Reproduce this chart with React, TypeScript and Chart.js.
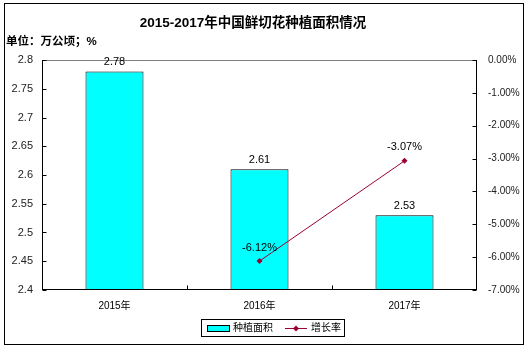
import React, { useEffect, useRef } from "react";
import { Chart, registerables } from "chart.js";

Chart.register(...registerables);

const categories = ["2015年", "2016年", "2017年"];
const areaValues = [2.78, 2.61, 2.53];
const growthValues: (number | null)[] = [null, -6.12, -3.07];
const leftTicks = { min: 2.4, max: 2.8, step: 0.05 };
const rightTicks = { min: -7, max: 0, step: 1 };
const titleText = "2015-2017年中国鲜切花种植面积情况";
const unitText = "单位：万公顷；%";
const seriesNames = ["种植面积", "增长率"];

const BAR_COLOR = "#00FFFF";
const LINE_COLOR = "#990033";
const LATIN = "'Liberation Sans', Arial, 'Noto Sans CJK SC', sans-serif";
const CJK = "'Liberation Sans', 'Noto Sans CJK SC', sans-serif";

const decorPlugin = {
  id: "decor",
  afterDraw(chart: any) {
    const ctx = chart.ctx;
    const a = chart.chartArea;
    ctx.save();
    // outer border
    ctx.strokeStyle = "#000";
    ctx.lineWidth = 1;
    ctx.strokeRect(4.5, 3.5, 519, 341);
    // title
    ctx.fillStyle = "#000";
    ctx.font = "bold 13.5px " + CJK;
    ctx.textAlign = "center";
    ctx.textBaseline = "middle";
    ctx.fillText(titleText, 253, 23);
    ctx.font = "bold 11.5px " + CJK;
    ctx.textAlign = "left";
    ctx.fillText(unitText, 6, 42);
    // plot frame
    ctx.strokeStyle = "#808080";
    ctx.beginPath();
    ctx.moveTo(a.left, Math.round(a.top) + 0.5);
    ctx.lineTo(a.right, Math.round(a.top) + 0.5);
    ctx.stroke();
    ctx.strokeStyle = "#000";
    ctx.beginPath();
    const L = Math.round(a.left) + 0.5;
    const R = Math.round(a.right) - 0.5;
    const B = Math.round(a.bottom) - 0.5;
    ctx.moveTo(L, a.top);
    ctx.lineTo(L, a.bottom);
    ctx.moveTo(R, a.top);
    ctx.lineTo(R, a.bottom);
    ctx.moveTo(a.left, B);
    ctx.lineTo(a.right, B);
    const y = chart.scales.y;
    y.ticks.forEach((t: any) => {
      const p = Math.round(y.getPixelForValue(t.value)) + 0.5;
      ctx.moveTo(L, p);
      ctx.lineTo(L + 4, p);
    });
    const y1 = chart.scales.y1;
    y1.ticks.forEach((t: any) => {
      const p = Math.round(y1.getPixelForValue(t.value)) + 0.5;
      ctx.moveTo(R - 4, p);
      ctx.lineTo(R, p);
    });
    const step = (a.right - a.left) / categories.length;
    for (let i = 1; i < categories.length; i++) {
      const px = Math.round(a.left + step * i) + 0.5;
      ctx.moveTo(px, B);
      ctx.lineTo(px, B - 4);
    }
    ctx.stroke();
    // data labels
    ctx.fillStyle = "#000";
    ctx.font = "11px " + LATIN;
    ctx.textAlign = "center";
    ctx.textBaseline = "bottom";
    const barMeta = chart.getDatasetMeta(0);
    barMeta.data.forEach((el: any, i: number) => {
      ctx.fillText(areaValues[i].toFixed(2), el.x, el.y - 4);
    });
    const lineMeta = chart.getDatasetMeta(1);
    lineMeta.data.forEach((el: any, i: number) => {
      const v = growthValues[i];
      if (v === null) return;
      ctx.fillText(v.toFixed(2) + "%", el.x, el.y - 8);
    });
    // legend
    ctx.strokeStyle = "#000";
    ctx.strokeRect(201.5, 319.5, 143, 17);
    ctx.fillStyle = BAR_COLOR;
    ctx.fillRect(207.5, 325.5, 22, 6);
    ctx.strokeRect(207.5, 325.5, 22, 6);
    ctx.fillStyle = "#000";
    ctx.font = "10px " + CJK;
    ctx.textAlign = "left";
    ctx.textBaseline = "middle";
    ctx.fillText(seriesNames[0], 233, 328.5);
    ctx.strokeStyle = LINE_COLOR;
    ctx.beginPath();
    ctx.moveTo(285, 328.5);
    ctx.lineTo(307, 328.5);
    ctx.stroke();
    ctx.fillStyle = LINE_COLOR;
    ctx.beginPath();
    ctx.moveTo(296, 325.5);
    ctx.lineTo(299, 328.5);
    ctx.lineTo(296, 331.5);
    ctx.lineTo(293, 328.5);
    ctx.closePath();
    ctx.fill();
    ctx.fillStyle = "#000";
    ctx.fillText(seriesNames[1], 311, 328.5);
    ctx.restore();
  },
};

export default function App() {
  const ref = useRef<HTMLCanvasElement>(null);
  useEffect(() => {
    if (!ref.current) return;
    const chart = new Chart(ref.current, {
      type: "bar",
      data: {
        labels: categories,
        datasets: [
          {
            type: "bar",
            label: seriesNames[0],
            data: areaValues,
            backgroundColor: BAR_COLOR,
            borderColor: "#000",
            borderWidth: 1,
            yAxisID: "y",
            categoryPercentage: 1,
            barPercentage: 0.4,
            order: 1,
          },
          {
            type: "line",
            label: seriesNames[1],
            data: growthValues,
            borderColor: LINE_COLOR,
            backgroundColor: LINE_COLOR,
            borderWidth: 1,
            pointStyle: "rectRot",
            pointRadius: 3,
            pointBorderWidth: 0,
            yAxisID: "y1",
            spanGaps: false,
            order: 0,
          } as any,
        ],
      },
      options: {
        responsive: false,
        animation: false,
        layout: { padding: { top: 60, left: 0, right: 0, bottom: 0 } },
        plugins: {
          legend: { display: false },
          title: { display: false },
          tooltip: { enabled: false },
        },
        scales: {
          x: {
            grid: { display: false, drawTicks: false },
            border: { display: false },
            ticks: {
              padding: 10,
              color: "#000",
              font: { size: 10, family: CJK },
            },
            afterFit: (s: any) => {
              s.height = 62;
            },
          },
          y: {
            position: "left",
            min: leftTicks.min,
            max: leftTicks.max,
            grid: { display: false, drawTicks: false },
            border: { display: false },
            ticks: {
              stepSize: leftTicks.step,
              padding: 9,
              color: "#222",
              font: { size: 11, family: LATIN },
              callback: (v: any) => String(parseFloat(Number(v).toFixed(2))),
            },
            afterFit: (s: any) => {
              s.width = 42;
            },
          },
          y1: {
            position: "right",
            min: rightTicks.min,
            max: rightTicks.max,
            grid: { display: false, drawTicks: false },
            border: { display: false },
            ticks: {
              stepSize: rightTicks.step,
              padding: 11,
              color: "#222",
              font: { size: 10, family: LATIN },
              callback: (v: any) => Number(v).toFixed(2) + "%",
            },
            afterFit: (s: any) => {
              s.width = 53;
            },
          },
        },
      },
      plugins: [decorPlugin],
    });
    return () => chart.destroy();
  }, []);
  return (
    <div style={{ position: "fixed", left: 0, top: 0, width: 530, height: 352, background: "#fff" }}>
      <canvas ref={ref} width={530} height={352} style={{ width: 530, height: 352, display: "block" }} />
    </div>
  );
}
